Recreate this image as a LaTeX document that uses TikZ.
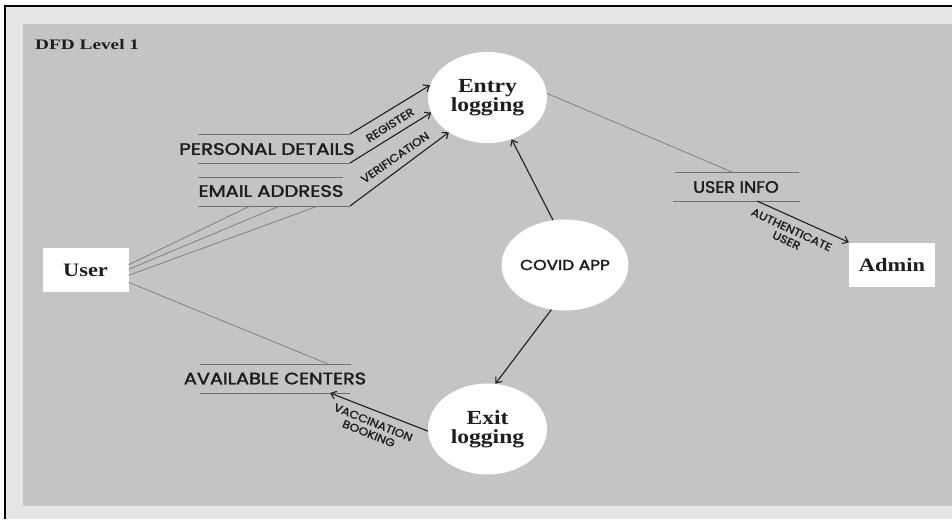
\documentclass[tikz,border=0pt]{standalone}
\usepackage{fontspec}
\usepackage{graphicx}
\setmainfont{Liberation Serif}
\newfontfamily\storefont{Poppins}[FakeBold=2]
\newfontfamily\tagfont{Poppins}[FakeBold=1.5]
\usetikzlibrary{shapes.geometric,arrows.meta}
\definecolor{panel}{HTML}{C4C4C4}
\definecolor{frame}{HTML}{E6E6E6}
\definecolor{ink}{HTML}{1E1E1E}
\definecolor{rule}{HTML}{707070}
\definecolor{thin}{HTML}{808080}
% horizontally widened text
\newcommand{\widen}[2][1.18]{\scalebox{#1}[1]{#2}}

\begin{document}
\begin{tikzpicture}[x=1pt,y=-1pt,
  process/.style={ellipse, fill=white, minimum width=119pt, minimum height=91pt, inner sep=0pt},
  ptitle/.style={font=\fontsize{20}{19}\selectfont\bfseries, align=center, text=ink},
  entity/.style={rectangle, fill=white, minimum width=86pt, minimum height=44pt, inner sep=0pt,
    font=\fontsize{19}{21}\selectfont\bfseries, text=ink},
  storetext/.style={font=\storefont\fontsize{16.5}{18}\selectfont, text=ink, inner sep=0pt},
  storeline/.style={draw=rule, line width=0.9pt},
  flow/.style={draw=ink, line width=1.1pt, -{Straight Barb[length=5pt,width=8pt]}},
  link/.style={draw=thin, line width=0.8pt},
  flowlabel/.style={font=\tagfont\fontsize{11}{12}\selectfont, text=ink, inner sep=0pt, align=center}
]
\useasboundingbox (0,0) rectangle (952,519);

% page frame and panel
\fill[white] (0,0) rectangle (952,519);
\fill[frame] (5,6) rectangle (952,519);
\fill[panel] (23,24) rectangle (952,506);
\draw[black, line width=2pt] (5,519) -- (5,6) -- (952,6);

\node[anchor=west, font=\fontsize{14.5}{16}\selectfont\bfseries, text=ink, inner sep=0pt] (title) at (35,45) {\widen[1.33]{DFD Level 1}};

% processes
\node[process, ptitle] (entry) at (487.5,97.5) {\widen{Entry}\\\widen{logging}};
\node[process, font=\storefont\fontsize{14.5}{16}\selectfont, text=ink] (covid) at (565,265) {\widen[1.17]{COVID APP}};
\node[process, ptitle] (exit) at (487.5,429) {\widen{Exit}\\\widen{logging}};

% external entities
\node[entity] (user) at (85.5,270) {\widen{User}};
\node[entity] (admin) at (892,264.5) {\widen{Admin}};

% data stores
\node[storetext] (pd) at (267,149) {\widen[1.2]{PERSONAL DETAILS}};
\coordinate (pdTL) at (198,134); \coordinate (pdTR) at (350,134);
\coordinate (pdBL) at (198,163); \coordinate (pdBR) at (350,163);
\draw[storeline] (pdTL) -- (pdTR);
\draw[storeline] (pdBL) -- (pdBR);

\node[storetext] (ea) at (271,191) {\widen[1.19]{EMAIL ADDRESS}};
\coordinate (eaTL) at (198,177); \coordinate (eaTR) at (343,177);
\coordinate (eaBL) at (198,206); \coordinate (eaBR) at (350,206);
\draw[storeline] (eaTL) -- (eaTR);
\draw[storeline] (eaBL) -- (eaBR);

\node[storetext] (ui) at (736,187) {\widen[1.06]{USER INFO}};
\coordinate (uiTL) at (675,172); \coordinate (uiTR) at (799,172);
\coordinate (uiBL) at (673,201); \coordinate (uiBR) at (800,201);
\draw[storeline] (uiTL) -- (uiTR);
\draw[storeline] (uiBL) -- (uiBR);

\node[storetext] (ac) at (275,378.5) {\widen[1.17]{AVAILABLE CENTERS}};
\coordinate (acTL) at (200,364); \coordinate (acTR) at (351,364);
\coordinate (acBL) at (200,393); \coordinate (acBR) at (350,393);
\draw[storeline] (acTL) -- (acTR);
\draw[storeline] (acBL) -- (acBR);

% user links to the stores
\coordinate (eaIn1) at (250,206);
\coordinate (eaIn2) at (280,206);
\coordinate (eaIn3) at (318,206);
\coordinate (acIn) at (328,364);
\draw[link] (user.7) -- (eaIn1);
\draw[link] (user.1) -- (eaIn2);
\draw[link] (user.353) -- (eaIn3);
\draw[link] (user.344) -- (acIn);

% flows into entry logging
\draw[flow] (pdTR) -- (entry.168);
\draw[flow] (pdBR) -- (entry.195);
\draw[flow] (eaBR) -- (entry.222);
\node[flowlabel, rotate=32] (lreg) at (390,125) {\widen[1.12]{REGISTER}};
\node[flowlabel, rotate=35] (lver) at (395,157.5) {\widen[1.12]{VERIFICATION}};

% entry logging to user info, then to admin
\coordinate (uiIn) at (732,172);
\coordinate (uiOut) at (757,201);
\draw[link] (entry.4) -- (uiIn);
\draw[flow] (uiOut) -- (admin.north west);
\node[flowlabel, rotate=-25] (lauth) at (789,235) {\widen[1.12]{AUTHENTICATE}\\\widen[1.12]{USER}};

% covid app to the logging processes
\draw[flow] (covid.105) -- (entry.300);
\draw[flow] (covid.253) -- (exit.80);

% exit logging to available centers
\coordinate (acOut) at (330,393);
\draw[flow] (exit.182) -- (acOut);
\node[flowlabel, rotate=-22] (lvac) at (371,428) {\widen[1.12]{VACCINATION}\\\widen[1.12]{BOOKING}};
\end{tikzpicture}
\end{document}
